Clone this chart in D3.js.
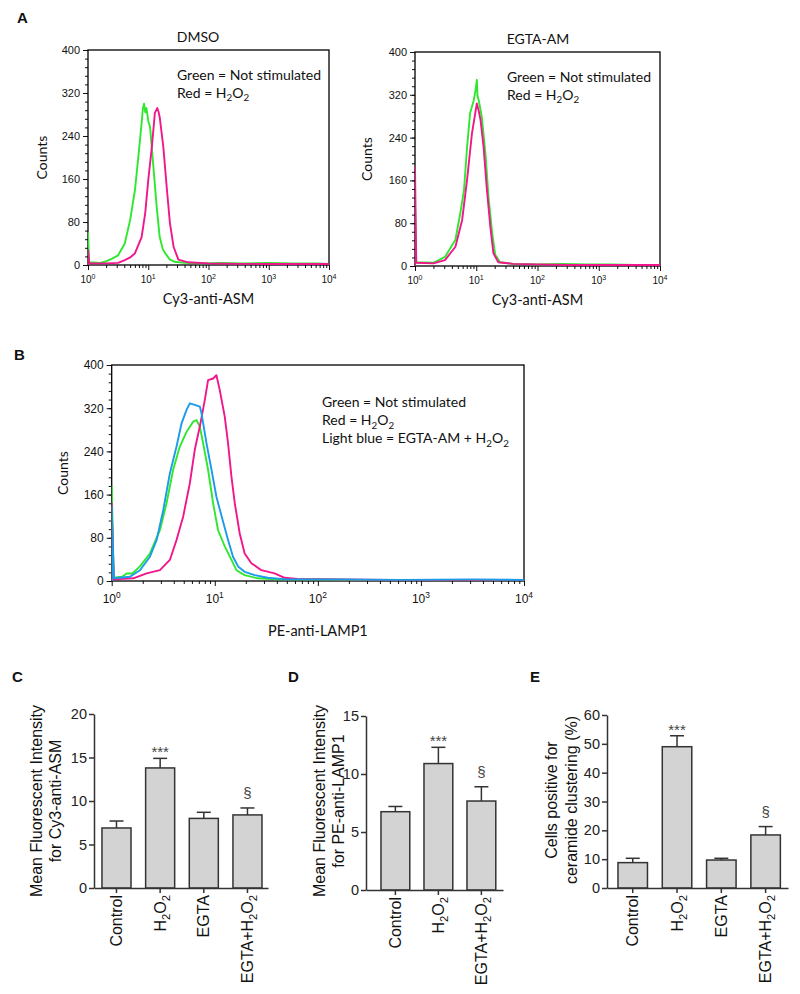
<!DOCTYPE html>
<html>
<head>
<meta charset="utf-8">
<title>ASM, LAMP1 and ceramide clustering</title>
<style>
  body { margin: 0; background: #fff; }
</style>
</head>
<body>
<script src="https://cdn.jsdelivr.net/npm/d3@7"></script>
<script>
// ---- histogram data, [log10 fluorescence, counts] ----
var dmsoNotStim = [[0,0],[0,60],[0.02,5],[0.2,4],[0.28,6],[0.4,12],[0.5,18],[0.61,40],[0.7,84],[0.78,140],[0.83,195],[0.89,264],[0.91,290],[0.93,300],[0.95,284],[0.97,292],[1.0,268],[1.03,257],[1.08,190],[1.14,108],[1.19,52],[1.24,30],[1.28,22],[1.36,10],[1.44,6],[1.6,4],[1.9,3],[2.2,4],[2.6,3],[3.0,4],[3.4,3],[3.8,3],[4,2]];
var dmsoH2O2 = [[0,0],[0,28],[0.02,3],[0.3,3],[0.5,4],[0.61,9],[0.7,14],[0.78,22],[0.89,52],[0.95,97],[1.0,158],[1.06,220],[1.11,283],[1.15,292],[1.17,285],[1.19,275],[1.25,220],[1.31,140],[1.36,78],[1.42,34],[1.5,10],[1.66,5],[2.0,3],[2.5,2],[3,2],[4,2]];
var egtaNotStim = [[0,0],[0,120],[0.02,7],[0.3,6],[0.49,17],[0.66,49],[0.74,99],[0.8,142],[0.85,222],[0.9,286],[0.96,310],[0.99,330],[1.01,348],[1.02,318],[1.04,310],[1.09,279],[1.15,211],[1.2,129],[1.26,62],[1.31,21],[1.39,7],[1.6,4],[2.0,3],[2.4,4],[2.8,3],[3.2,3],[3.6,2],[4,2]];
var egtaH2O2 = [[0,0],[0,185],[0.02,6],[0.3,5],[0.49,11],[0.66,36],[0.77,86],[0.85,161],[0.93,248],[1.01,304],[1.04,290],[1.07,273],[1.12,222],[1.17,148],[1.23,73],[1.28,24],[1.36,7],[1.6,4],[2.0,3],[2.5,2],[3,2],[4,2]];
var lampNotStim = [[0,0],[0,175],[0.02,6],[0.1,8],[0.145,14],[0.2,14],[0.274,27],[0.371,51],[0.468,94],[0.532,144],[0.596,206],[0.661,249],[0.726,276],[0.79,295],[0.823,298],[0.855,286],[0.887,255],[0.935,206],[0.984,144],[1.032,94],[1.097,64],[1.162,39],[1.21,20],[1.29,11],[1.416,5],[1.6,3],[2.0,3],[2.4,2],[3,2],[4,2]];
var lampEgtaH2O2 = [[0,0],[0,138],[0.02,5],[0.177,8],[0.274,20],[0.371,45],[0.436,76],[0.5,131],[0.564,199],[0.629,249],[0.678,292],[0.726,317],[0.758,329],[0.806,326],[0.855,323],[0.871,311],[0.92,255],[0.968,206],[1.016,156],[1.08,110],[1.129,76],[1.177,45],[1.226,27],[1.29,17],[1.387,11],[1.513,6],[1.7,3],[2.2,3],[2.8,2],[3.5,3],[4,2]];
var lampH2O2 = [[0,0],[0,144],[0.02,3],[0.209,5],[0.339,14],[0.468,20],[0.564,39],[0.629,76],[0.693,119],[0.758,181],[0.806,243],[0.855,286],[0.903,335],[0.935,372],[0.984,375],[1.016,381],[1.048,354],[1.097,304],[1.129,255],[1.162,193],[1.194,144],[1.242,88],[1.29,51],[1.355,33],[1.452,20],[1.58,14],[1.678,6],[1.8,4],[2.2,3],[2.7,2],[3.2,2],[4,2]];

var countTicks = [0, 80, 160, 240, 320, 400];
var decadeTicks = [1, 10, 100, 1000, 10000];

// ---- bar chart data ----
var cCats = ["Control", "H2O2", "EGTA", "EGTA+H2O2"];
var cMean = [6.9, 13.8, 8.0, 8.4];
var cErr  = [0.8, 1.1, 0.7, 0.8];
var cSig  = ["", "***", "", "§"];
var cTicks = [0, 5, 10, 15, 20];

var dCats = ["Control", "H2O2", "EGTA+H2O2"];
var dMean = [6.75, 10.9, 7.67];
var dErr  = [0.45, 1.4, 1.23];
var dSig  = ["", "***", "§"];
var dTicks = [0, 5, 10, 15];

var eCats = ["Control", "H2O2", "EGTA", "EGTA+H2O2"];
var eMean = [8.8, 49, 9.7, 18.4];
var eErr  = [1.5, 3.8, 0.6, 2.9];
var eSig  = ["", "***", "", "§"];
var eTicks = [0, 10, 20, 30, 40, 50, 60];

var GREEN = "#2ee82e", MAGENTA = "#f0168c", BLUE = "#1b9be8";
var H2O2 = ["H", {t: "2", sub: 1}, "O", {t: "2", sub: 1}];
var catParts = {
  "Control": ["Control"],
  "EGTA": ["EGTA"],
  "H2O2": H2O2,
  "EGTA+H2O2": ["EGTA+"].concat(H2O2)
};

var svg = d3.select("body").append("svg")
  .attr("width", 800).attr("height", 994)
  .style("background", "#fff");

// text with sub/superscript pieces
function rich(text, parts, fs) {
  var cur = 0;
  parts.forEach(function(p) {
    var s = typeof p === "string" ? {t: p} : p;
    var target = s.sub ? fs * 0.25 : s.sup ? -fs * 0.45 : 0;
    var ts = text.append("tspan").attr("font-size", (s.sub || s.sup) ? fs * 0.7 : fs).text(s.t);
    if (target - cur !== 0) ts.attr("dy", target - cur);
    cur = target;
  });
}

var clipN = 0;
function drawHist(c) {
  var g = svg.append("g").style("font-family", "Lato, 'Open Sans', sans-serif");
  var x = d3.scaleLog().domain([1, 1e4]).range([c.left, c.right]);
  var y = d3.scaleLinear().domain([0, 400]).range([c.bottom, c.top]);

  var id = "clip" + (clipN++);
  svg.append("clipPath").attr("id", id).append("rect")
    .attr("x", c.left).attr("y", c.top - 2)
    .attr("width", c.right - c.left).attr("height", c.bottom - c.top + 2);

  // y ticks
  var ya = g.append("g").attr("transform", "translate(" + c.left + ",0)")
    .call(d3.axisLeft(y).tickValues(countTicks).tickSize(5).tickPadding(3));
  ya.select(".domain").remove();
  ya.selectAll("text").style("font-family", "'Liberation Sans', Arial, sans-serif")
    .style("font-size", c.tickFs + "px").attr("fill", "#111");
  var ym = g.append("g").attr("transform", "translate(" + c.left + ",0)")
    .call(d3.axisLeft(y).tickValues(d3.range(0, 401, 16)).tickSize(3).tickFormat(""));
  ym.select(".domain").remove();

  // x ticks
  var minors = [];
  decadeTicks.slice(0, 4).forEach(function(d) { for (var k = 2; k < 10; k++) minors.push(d * k); });
  var xa = g.append("g").attr("transform", "translate(0," + c.bottom + ")")
    .call(d3.axisBottom(x).tickValues(decadeTicks).tickSize(5).tickFormat(""));
  xa.select(".domain").remove();
  var xm = g.append("g").attr("transform", "translate(0," + c.bottom + ")")
    .call(d3.axisBottom(x).tickValues(minors).tickSize(3).tickFormat(""));
  xm.select(".domain").remove();
  g.selectAll(".tick line").attr("stroke", "#111");

  decadeTicks.forEach(function(d, i) {
    var t = g.append("text").attr("x", x(d)).attr("y", c.bottom + c.xLabDy)
      .attr("text-anchor", "middle").attr("fill", "#111")
      .style("font-family", "'Liberation Sans', Arial, sans-serif");
    rich(t, ["10", {t: String(i), sup: 1}], c.xFs);
  });

  // frame
  g.append("rect").attr("x", c.left).attr("y", c.top)
    .attr("width", c.right - c.left).attr("height", c.bottom - c.top)
    .attr("fill", "none").attr("stroke", "#000").attr("stroke-width", 1.3);

  var line = d3.line()
    .x(function(d) { return x(Math.pow(10, d[0])); })
    .y(function(d) { return y(d[1]); });
  c.series.forEach(function(s) {
    g.append("path").attr("d", line(s.data)).attr("fill", "none")
      .attr("stroke", s.color).attr("stroke-width", 1.9)
      .attr("stroke-linejoin", "round")
      .attr("clip-path", "url(#" + id + ")");
  });

  if (c.title) {
    g.append("text").attr("x", c.titleX).attr("y", c.top - 8)
      .attr("text-anchor", "middle").style("font-size", "14px").attr("fill", "#111").text(c.title);
  }
  c.legend.forEach(function(parts, i) {
    var t = g.append("text").attr("x", c.legX).attr("y", c.legY + i * c.legDy).attr("fill", "#111");
    rich(t, parts, c.legFs);
  });

  g.append("text")
    .attr("transform", "translate(" + c.countsX + "," + (c.top + c.bottom) / 2 + ") rotate(-90)")
    .attr("text-anchor", "middle").style("font-size", "14px").attr("fill", "#111").text("Counts");
  g.append("text").attr("x", (c.left + c.right) / 2).attr("y", c.xTitleY)
    .attr("text-anchor", "middle").style("font-size", "14.5px").attr("fill", "#111").text(c.xTitle);
}

function drawBars(c) {
  var g = svg.append("g").style("font-family", "'Liberation Sans', Arial, sans-serif");
  var x = d3.scaleBand().domain(c.cats).range([c.left, c.right])
    .paddingInner(c.inner).paddingOuter(c.outer).align(c.align);
  var y = d3.scaleLinear().domain([0, c.max]).range([c.bottom, c.top]);
  var rows = c.cats.map(function(k, i) { return {k: k, m: c.mean[i], e: c.err[i], s: c.sig[i]}; });

  g.selectAll("rect.bar").data(rows).enter().append("rect")
    .attr("x", function(d) { return x(d.k); })
    .attr("y", function(d) { return y(d.m); })
    .attr("width", x.bandwidth())
    .attr("height", function(d) { return y(0) - y(d.m); })
    .attr("fill", "#d3d3d3").attr("stroke", "#333").attr("stroke-width", 1.5);

  var cx = function(d) { return x(d.k) + x.bandwidth() / 2; };
  g.selectAll("line.err").data(rows).enter().append("line")
    .attr("x1", cx).attr("x2", cx)
    .attr("y1", function(d) { return y(d.m); })
    .attr("y2", function(d) { return y(d.m + d.e); })
    .attr("stroke", "#333").attr("stroke-width", 1.5);
  g.selectAll("line.cap").data(rows).enter().append("line")
    .attr("x1", function(d) { return cx(d) - 7; })
    .attr("x2", function(d) { return cx(d) + 7; })
    .attr("y1", function(d) { return y(d.m + d.e); })
    .attr("y2", function(d) { return y(d.m + d.e); })
    .attr("stroke", "#333").attr("stroke-width", 1.5);

  g.selectAll("text.sig").data(rows.filter(function(d) { return d.s; })).enter().append("text")
    .attr("x", cx)
    .attr("y", function(d) { return y(d.m + d.e) - (d.s === "§" ? 10 : 1); })
    .attr("text-anchor", "middle").attr("fill", "#444")
    .style("font-size", "15px")
    .text(function(d) { return d.s; });

  var ya = g.append("g").attr("transform", "translate(" + c.left + ",0)")
    .call(d3.axisLeft(y).tickValues(c.ticks).tickSize(5).tickSizeOuter(0).tickPadding(2));
  ya.selectAll("text").style("font-size", "14.5px").attr("fill", "#222");
  g.append("g").attr("transform", "translate(0," + c.bottom + ")")
    .call(d3.axisBottom(x).tickSize(5).tickSizeOuter(0).tickFormat(""));
  g.selectAll(".domain, .tick line").attr("stroke", "#333").attr("stroke-width", 1.5);

  rows.forEach(function(d) {
    var t = g.append("text")
      .attr("transform", "translate(" + cx(d) + "," + (c.bottom + 7) + ") rotate(-90)")
      .attr("y", 5.5).attr("text-anchor", "end").attr("fill", "#111");
    rich(t, catParts[d.k], 16);
  });

  c.ylab.forEach(function(s, i) {
    g.append("text")
      .attr("transform", "translate(" + c.ylabX[i] + "," + c.ylabY + ") rotate(-90)")
      .attr("text-anchor", "middle").style("font-size", "16px").attr("fill", "#111").text(s);
  });
}

// ---- panel A ----
drawHist({
  left: 88, right: 329, top: 50, bottom: 265, tickFs: 11, xFs: 10, xLabDy: 18,
  series: [{data: dmsoNotStim, color: GREEN}, {data: dmsoH2O2, color: MAGENTA}],
  title: "DMSO", titleX: 198,
  legend: [["Green = Not stimulated"], ["Red = "].concat(H2O2)],
  legX: 177, legY: 80, legDy: 17.5, legFs: 14,
  countsX: 47, xTitle: "Cy3-anti-ASM", xTitleY: 304
});
drawHist({
  left: 415, right: 660, top: 52, bottom: 266, tickFs: 11, xFs: 10, xLabDy: 18,
  series: [{data: egtaNotStim, color: GREEN}, {data: egtaH2O2, color: MAGENTA}],
  title: "EGTA-AM", titleX: 538,
  legend: [["Green = Not stimulated"], ["Red = "].concat(H2O2)],
  legX: 507, legY: 82, legDy: 17.5, legFs: 14,
  countsX: 372, xTitle: "Cy3-anti-ASM", xTitleY: 305
});

// ---- panel B ----
drawHist({
  left: 111.7, right: 524, top: 365, bottom: 581, tickFs: 12, xFs: 12, xLabDy: 22,
  series: [{data: lampNotStim, color: GREEN}, {data: lampH2O2, color: MAGENTA}, {data: lampEgtaH2O2, color: BLUE}],
  title: null,
  legend: [["Green = Not stimulated"], ["Red = "].concat(H2O2), ["Light blue = EGTA-AM + "].concat(H2O2)],
  legX: 322, legY: 407, legDy: 18, legFs: 14,
  countsX: 68, xTitle: "PE-anti-LAMP1", xTitleY: 636
});

// ---- panels C, D, E ----
drawBars({
  cats: cCats, mean: cMean, err: cErr, sig: cSig, ticks: cTicks, max: 20,
  left: 94, right: 268, top: 714, bottom: 888, inner: 0.335, outer: 0.16, align: 0.57,
  ylab: ["Mean Fluorescent Intensity", "for Cy3-anti-ASM"], ylabX: [42, 61], ylabY: 801
});
drawBars({
  cats: dCats, mean: dMean, err: dErr, sig: dSig, ticks: dTicks, max: 15,
  left: 366, right: 503, top: 716, bottom: 890, inner: 0.33, outer: 0.258, align: 0.675,
  ylab: ["Mean Fluorescent Intensity", "for PE-anti-LAMP1"], ylabX: [325, 344], ylabY: 801
});
drawBars({
  cats: eCats, mean: eMean, err: eErr, sig: eSig, ticks: eTicks, max: 60,
  left: 607, right: 788, top: 715, bottom: 888, inner: 0.334, outer: 0.21, align: 0.59,
  ylab: ["Cells positive for", "ceramide clustering (%)"], ylabX: [557, 577], ylabY: 800
});

// ---- panel letters ----
var letters = [["A", 17, 23], ["B", 14, 360], ["C", 12, 682], ["D", 288, 682], ["E", 530, 682]];
svg.selectAll("text.letter").data(letters).enter().append("text")
  .attr("x", function(d) { return d[1]; }).attr("y", function(d) { return d[2]; })
  .style("font-family", "'Liberation Sans', Arial, sans-serif")
  .style("font-weight", "bold").style("font-size", "15px").attr("fill", "#111")
  .text(function(d) { return d[0]; });
</script>
</body>
</html>
